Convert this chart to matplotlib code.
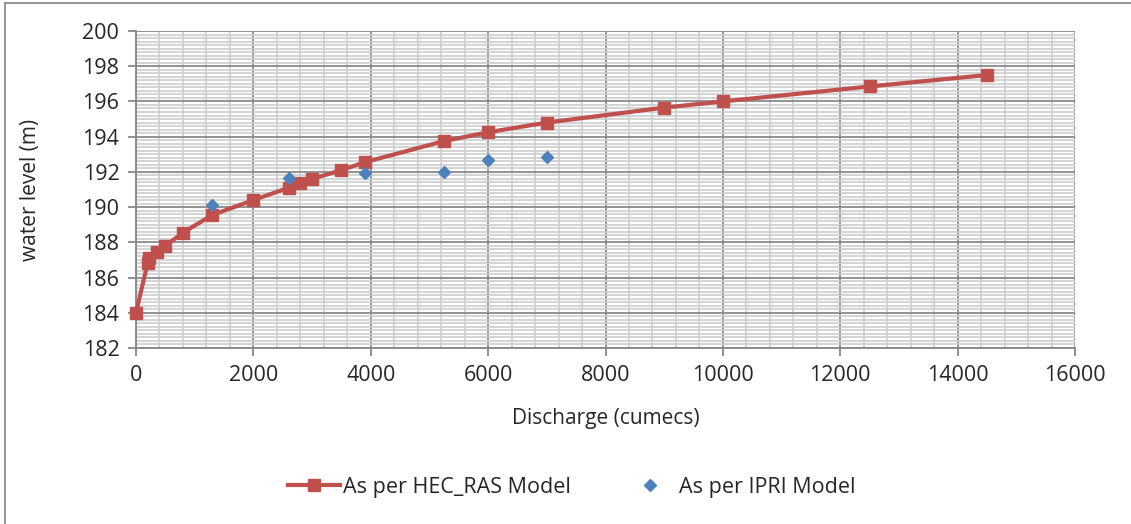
import matplotlib
matplotlib.use("Agg")
import matplotlib.pyplot as plt
from matplotlib.lines import Line2D
from matplotlib.ticker import MultipleLocator

# rating curve, HEC-RAS run
hec_q = [0, 200, 230, 350, 500, 800, 1300, 2000, 2600, 2800, 3000, 3500,
         3900, 5250, 6000, 7000, 9000, 10000, 12500, 14500]
hec_wl = [184.0, 186.85, 187.1, 187.45, 187.8, 188.55, 189.55, 190.4, 191.1,
          191.35, 191.6, 192.1, 192.55, 193.75, 194.25, 194.8, 195.65, 196.0,
          196.85, 197.5]

# IPRI model points
ipri_q = [1300, 2600, 3900, 5250, 6000, 7000]
ipri_wl = [190.1, 191.65, 191.95, 192.0, 192.65, 192.85]

RED = "#C0504D"
BLUE = "#4F81BD"
TXT = "#262626"

plt.rcParams["font.family"] = ["Open Sans", "DejaVu Sans"]

fig = plt.figure(figsize=(11.31, 5.24), dpi=100)
ax = fig.add_axes([136 / 1131, 1 - 348 / 524, 939 / 1131, 317 / 524])

ax.plot(hec_q, hec_wl, color=RED, lw=3, marker="s", ms=9,
        label="As per HEC_RAS Model", zorder=4, clip_on=False)
ax.plot(ipri_q, ipri_wl, ls="none", color=BLUE, marker="D", ms=6.5,
        label="As per IPRI Model", zorder=5)

ax.set_xlim(0, 16000)
ax.set_ylim(182, 200)
ax.xaxis.set_major_locator(MultipleLocator(2000))
ax.xaxis.set_minor_locator(MultipleLocator(400))
ax.yaxis.set_major_locator(MultipleLocator(2))
ax.yaxis.set_minor_locator(MultipleLocator(0.2))

ax.grid(which="major", color="#8a8a8a", lw=1.3, zorder=1)
ax.grid(which="minor", color="#cdcdcd", lw=1.2, zorder=0)
ax.set_axisbelow(True)

for side in ("top", "right"):
    ax.spines[side].set_visible(False)
for side in ("left", "bottom"):
    ax.spines[side].set_color("#868686")
    ax.spines[side].set_linewidth(1.3)

ax.tick_params(which="major", length=6, width=1.3, color="#868686",
               labelsize=15.5, labelcolor=TXT, pad=6)
ax.tick_params(which="minor", length=0)

ax.set_xlabel("Discharge (cumecs)", fontsize=15, color=TXT, labelpad=16)
ax.set_ylabel("water level (m)", fontsize=15, color=TXT, labelpad=30)

handles = [
    Line2D([], [], color=RED, lw=3, marker="s", ms=9),
    Line2D([], [], ls="none", color=BLUE, marker="D", ms=6.5),
]
fig.legend(handles, ["As per HEC_RAS Model", "As per IPRI Model"],
           loc="center", bbox_to_anchor=(572 / 1131, 1 - 487 / 524),
           ncol=2, frameon=False, fontsize=15.5, handlelength=2.4,
           handletextpad=0.15, columnspacing=2.5, labelcolor=TXT)

# outer chart frame
fig.add_artist(Line2D([5 / 1131, 1], [1 - 3 / 524, 1 - 3 / 524],
                      color="#8c8c8c", lw=1.3))
fig.add_artist(Line2D([5 / 1131, 5 / 1131], [0, 1 - 3 / 524],
                      color="#8c8c8c", lw=1.3))

fig.savefig("out.png", dpi=100)
